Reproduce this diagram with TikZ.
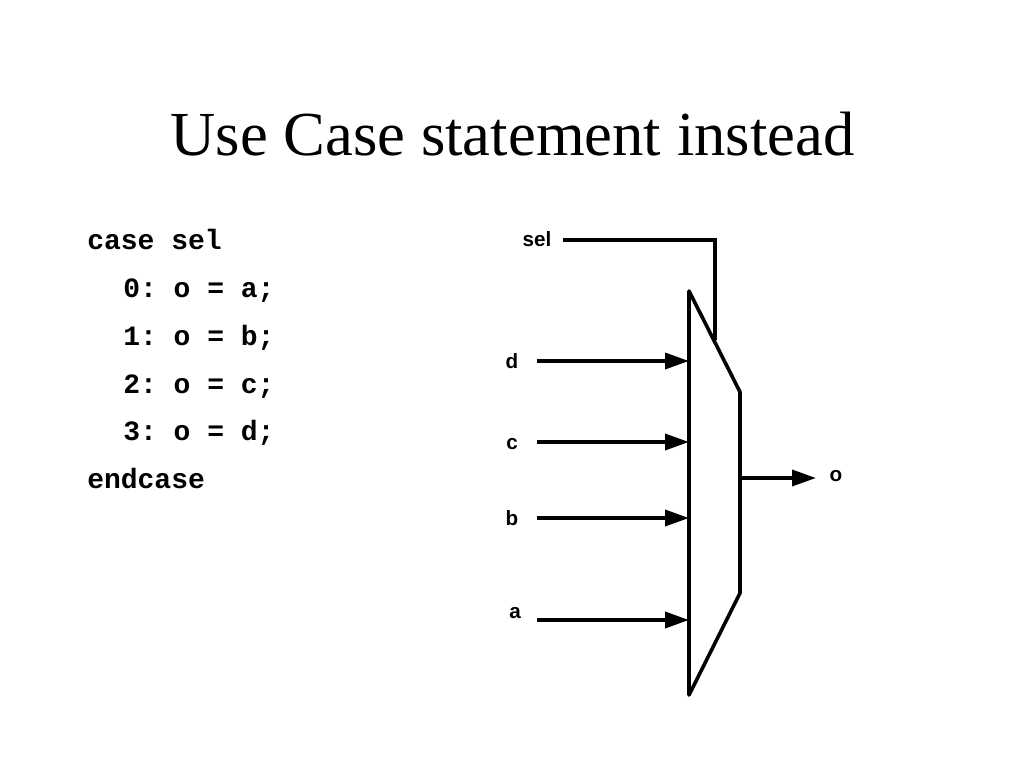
\documentclass[tikz,border=0pt]{standalone}
\usepackage{fontspec}
\setmainfont{Liberation Serif}
\setsansfont{Liberation Sans}
\setmonofont{Liberation Mono}
\usetikzlibrary{arrows.meta}
\tikzset{
  wire/.style={line width=2.7pt,line cap=butt},
  arrowwire/.style={wire,-{Triangle[length=18pt,width=12pt]}},
  lab/.style={font=\sffamily\bfseries\fontsize{15.5}{18}\selectfont,inner sep=0pt},
  code/.style={font=\ttfamily\bfseries\fontsize{21}{24}\selectfont,inner sep=0pt,anchor=base west},
}
\begin{document}
\begin{tikzpicture}[x=0.75pt,y=-0.75pt]
\useasboundingbox (0,0) rectangle (1024,768);
\node[font=\fontsize{47}{54}\selectfont,inner sep=0pt,anchor=base] (title) at (512.5,155) {Use Case statement instead};
\node[code] (c1) at (87,249) {case sel};
\node[code] (c2) at (123,297) {0: o = a;};
\node[code] (c3) at (123,345) {1: o = b;};
\node[code] (c4) at (123,393) {2: o = c;};
\node[code] (c5) at (123,440) {3: o = d;};
\node[code] (c6) at (87,488) {endcase};
\coordinate (m1) at (689,291);
\coordinate (m2) at (740,392);
\coordinate (m3) at (740,593);
\coordinate (m4) at (689,695);
\draw[wire,line join=round] (m1) -- (m2) -- (m3) -- (m4) -- cycle;
\node[lab] (sel) at (537,239) {sel};
\node[lab] (d) at (512,361) {d};
\node[lab] (c) at (512,444) {c};
\node[lab] (b) at (512,518) {b};
\node[lab] (a) at (515,613) {a};
\node[lab] (o) at (836,476) {o};
\coordinate (s0) at (563,240);
\coordinate (s1) at (715,240);
\coordinate (s2) at (715,340);
\draw[wire,line join=miter] (s0) -- (s1) -- (s2);
\coordinate (d0) at (537,361); \coordinate (d1) at (689,361);
\coordinate (c0) at (537,442); \coordinate (c1p) at (689,442);
\coordinate (b0) at (537,518); \coordinate (b1) at (689,518);
\coordinate (a0) at (537,620); \coordinate (a1) at (689,620);
\coordinate (o0) at (740,478); \coordinate (o1) at (816,478);
\draw[arrowwire] (d0) -- (d1);
\draw[arrowwire] (c0) -- (c1p);
\draw[arrowwire] (b0) -- (b1);
\draw[arrowwire] (a0) -- (a1);
\draw[arrowwire] (o0) -- (o1);
\end{tikzpicture}
\end{document}
